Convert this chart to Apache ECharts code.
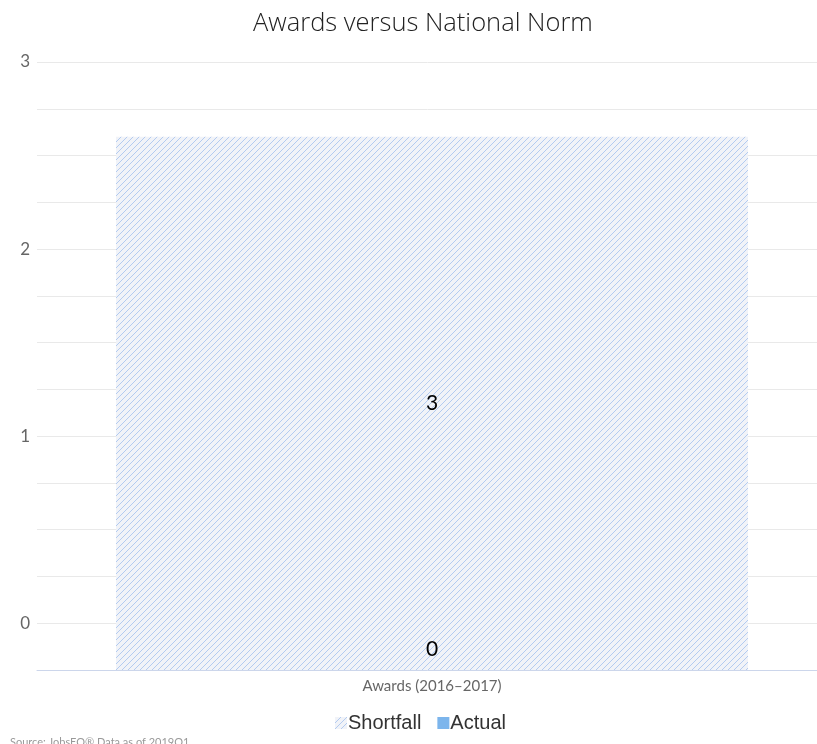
<!DOCTYPE html>
<html>
<head>
<meta charset="utf-8">
<script src="https://cdn.jsdelivr.net/npm/echarts@6/dist/echarts.min.js"></script>
<style>
html,body{margin:0;padding:0;background:#fff;}
#chart{width:817px;height:744px;}
</style>
</head>
<body>
<div id="chart"></div>
<script>
var categories = ['Awards (2016–2017)'];
var shortfallValues = [2.6];
var actualValues = [0];
var yTickLabels = [0, 1, 2, 3];
var seriesNames = ['Shortfall', 'Actual'];
var yMin = -0.25, yMax = 3, yStep = 0.25;

function makePattern() {
  var c = document.createElement('canvas');
  c.width = 6; c.height = 6;
  var g = c.getContext('2d');
  g.fillStyle = '#f1f3f8';
  g.fillRect(0, 0, 6, 6);
  g.strokeStyle = '#b3cbf0';
  g.lineWidth = 1;
  g.beginPath();
  g.moveTo(0, 6); g.lineTo(6, 0);
  g.moveTo(-1, 1); g.lineTo(1, -1);
  g.moveTo(5, 7); g.lineTo(7, 5);
  g.stroke();
  return c;
}
var pattern = makePattern();

var chart = echarts.init(document.getElementById('chart'), null, {renderer: 'canvas'});
chart.setOption({
  animation: false,
  title: {
    text: 'Awards versus National Norm',
    left: 248,
    top: 6,
    textStyle: {fontFamily: 'Open Sans', fontWeight: 300, fontSize: 25.5, color: '#222'}
  },
  grid: {left: 37, width: 790, top: 62, bottom: 74, containLabel: false, outerBoundsMode: 'none'},
  legend: {
    bottom: 6,
    left: 330,
    itemWidth: 12,
    itemHeight: 12,
    itemGap: 16,
    icon: 'rect',
    textStyle: {fontFamily: 'Liberation Sans', fontSize: 20, color: '#333', padding: [0,0,0,-4]},
    data: [
      {name: seriesNames[0]},
      {name: seriesNames[1], itemStyle: {color: '#7cb5ec'}}
    ]
  },
  xAxis: {
    type: 'category',
    data: categories,
    axisLine: {onZero: false, lineStyle: {color: '#ccd6eb', width: 1}},
    axisTick: {show: false},
    axisLabel: {color: '#666', fontFamily: 'Lato', fontSize: 15, margin: 9}
  },
  yAxis: {
    type: 'value',
    min: yMin,
    max: yMax,
    interval: yStep,
    startValue: yMin,
    axisLine: {show: false},
    axisTick: {show: false},
    splitLine: {lineStyle: {color: '#e9e9e9'}},
    axisLabel: {
      color: '#666', fontFamily: 'Lato', fontSize: 17, margin: 7,
      verticalAlign: 'middle', padding: [0, 0, 4, 0],
      formatter: function (v) {
        var r = Math.round(v * 100) / 100;
        return yTickLabels.indexOf(r) >= 0 ? String(r) : '';
      }
    }
  },
  series: [
    {
      name: seriesNames[0],
      type: 'bar',
      data: shortfallValues,
      barWidth: '80%',
      barGap: '-100%',
      itemStyle: {color: {image: pattern, repeat: 'repeat'}},
      label: {
        show: true, position: 'inside', color: '#000', fontFamily: 'Lato', fontSize: 21,
        formatter: function (p) { return String(Math.round(p.value)); }
      },
      z: 2
    },
    {
      name: seriesNames[1],
      type: 'bar',
      data: actualValues,
      barWidth: '80%',
      barGap: '-100%',
      itemStyle: {color: 'rgba(124,181,236,0)'},
      label: {
        show: true, position: 'inside', color: '#000', fontFamily: 'Lato', fontSize: 21,
        offset: [0, 3],
        formatter: function (p) { return String(Math.round(p.value)); }
      },
      z: 3
    }
  ],
  graphic: [{
    type: 'text',
    left: 10,
    bottom: -4,
    style: {text: 'Source: JobsEQ® Data as of 2019Q1', fill: '#999', font: '11px Lato'}
  }]
});
</script>
</body>
</html>
